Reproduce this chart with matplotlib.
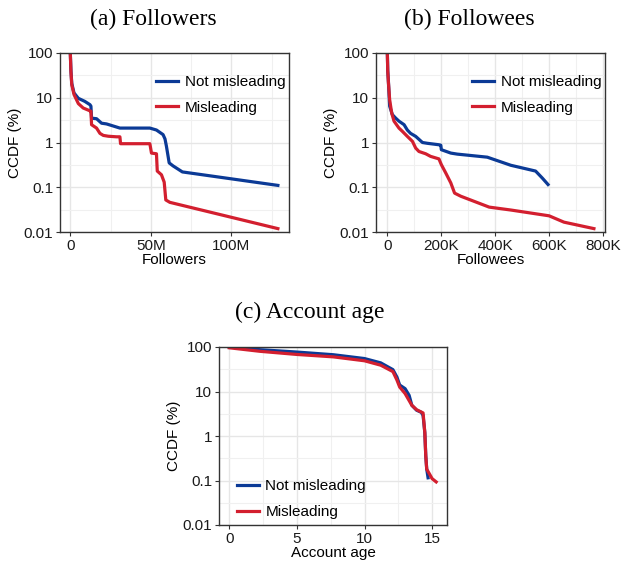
import matplotlib
matplotlib.use("Agg")
import matplotlib.pyplot as plt
from matplotlib.ticker import FixedLocator, FuncFormatter

# ---------------- data ----------------
# (a) Followers (in millions), CCDF (%)
fol_not_x = [0, 0.4, 0.9, 2.3, 5.0, 9.0, 12.2, 12.8, 13.2, 16.3, 19.4, 22.5, 30.8, 49.4, 53.5, 57.6, 58.8, 59.7, 61.4, 63.8, 69.6, 128.9]
fol_not_y = [100, 40, 21, 12.8, 9.7, 8.3, 7.0, 6.5, 3.5, 3.4, 2.7, 2.6, 2.1, 2.1, 1.9, 1.5, 1.2, 0.82, 0.35, 0.3, 0.22, 0.11]
fol_mis_x = [0, 0.4, 0.9, 2.3, 5.0, 8.0, 12.2, 12.8, 13.2, 16.3, 18.4, 20.5, 23.6, 28.7, 30.8, 31.2, 49.4, 50.4, 53.5, 54.0, 56.6, 58.3, 59.3, 61.8, 128.9]
fol_mis_y = [100, 38, 19.6, 11.8, 7.4, 5.9, 5.1, 5.0, 2.5, 2.1, 1.6, 1.44, 1.38, 1.34, 1.34, 0.94, 0.94, 0.58, 0.56, 0.23, 0.19, 0.13, 0.052, 0.046, 0.0119]

# (b) Followees (in thousands), CCDF (%)
fee_not_x = [0, 1.5, 3.7, 8.6, 18.5, 31, 43, 62, 74, 86, 105, 130, 148, 191, 198, 200, 235, 259, 370, 457, 549, 574, 595]
fee_not_y = [100, 40, 25, 6.5, 4.2, 3.5, 3.0, 2.5, 1.9, 1.6, 1.37, 1.0, 0.96, 0.89, 0.87, 0.69, 0.58, 0.55, 0.47, 0.31, 0.23, 0.16, 0.115]
fee_mis_x = [0, 1.5, 3.7, 8.6, 16, 24.7, 43, 55.5, 74, 93, 105, 117, 142, 160, 191, 200, 216, 235, 249, 272, 377, 457, 599, 654, 765]
fee_mis_y = [100, 40, 23, 9, 4.6, 3.0, 2.1, 1.78, 1.37, 1.06, 0.75, 0.63, 0.56, 0.49, 0.43, 0.32, 0.21, 0.125, 0.074, 0.063, 0.036, 0.031, 0.023, 0.0166, 0.0119]

# (c) Account age (years), CCDF (%)
age_not_x = [0, 2.27, 5.0, 7.7, 10.0, 11.2, 12.1, 12.4, 12.6, 13.0, 13.3, 13.5, 13.85, 14.2, 14.33, 14.46, 14.53, 14.6, 14.7]
age_not_y = [100, 87, 77, 67, 55, 44, 31, 21, 14, 11.6, 8.2, 4.9, 3.8, 3.4, 2.9, 1.19, 0.36, 0.18, 0.115]
age_mis_x = [0, 2.27, 5.0, 7.7, 10.0, 11.2, 12.1, 12.4, 12.6, 13.0, 13.5, 13.85, 14.33, 14.46, 14.53, 14.6, 15.0, 15.3]
age_mis_y = [96, 80, 68, 60, 49, 39, 28, 18, 12.6, 9, 4.9, 3.9, 3.3, 1.19, 0.36, 0.18, 0.11, 0.093]

series_labels = ["Not misleading", "Misleading"]
titles = ["(a) Followers", "(b) Followees", "(c) Account age"]
xlabels = ["Followers", "Followees", "Account age"]
ylabel = "CCDF (%)"
y_ticks = [0.01, 0.1, 1, 10, 100]
y_ticklabels = ["0.01", "0.1", "1", "10", "100"]

# ---------------- style ----------------
BLUE = "#0b3a96"
RED = "#d31f2f"
SANS = ["Liberation Sans", "DejaVu Sans"]
SERIF = ["Liberation Serif", "DejaVu Serif"]
plt.rcParams["font.family"] = SANS

fig = plt.figure(figsize=(6.22, 5.61), dpi=100)
W, H = 622, 561

def ax_at(l, r, t, b):
    return fig.add_axes([l / W, 1 - b / H, (r - l) / W, (b - t) / H])

ax_a = ax_at(60, 289, 53, 232)
ax_b = ax_at(376, 605, 53, 232)
ax_c = ax_at(219, 447, 347, 525)

def style(ax, xlim, xmaj, xmin, xfmt):
    ax.set_yscale("log")
    ax.set_ylim(0.01, 100)
    ax.set_xlim(*xlim)
    ax.yaxis.set_major_locator(FixedLocator(y_ticks))
    ax.yaxis.set_minor_locator(FixedLocator([0.0316, 0.316, 3.16, 31.6]))
    ax.set_yticks(y_ticks)
    ax.set_yticklabels(y_ticklabels)
    ax.xaxis.set_major_locator(FixedLocator(xmaj))
    ax.xaxis.set_minor_locator(FixedLocator(xmin))
    ax.xaxis.set_major_formatter(FuncFormatter(xfmt))
    ax.grid(True, which="major", color="#e6e6e6", lw=1.0)
    ax.grid(True, which="minor", color="#f0f0f0", lw=0.8)
    ax.set_axisbelow(True)
    ax.tick_params(which="major", length=3, width=0.8, color="#333333",
                   labelsize=11, labelcolor="#1a1a1a", pad=2)
    ax.tick_params(which="minor", length=0)
    for s in ax.spines.values():
        s.set_color("#333333")
        s.set_linewidth(1.0)
    ax.set_ylabel(ylabel, fontsize=11, labelpad=1)

style(ax_a, (-6.4, 135.8), [0, 50, 100], [25, 75, 125],
      lambda v, p: "0" if v == 0 else f"{int(v)}M")
style(ax_b, (-42, 806), [0, 200, 400, 600, 800], [100, 300, 500, 700],
      lambda v, p: "0" if v == 0 else f"{int(v)}K")
style(ax_c, (-0.76, 16.1), [0, 5, 10, 15], [2.5, 7.5, 12.5],
      lambda v, p: f"{int(v)}")

LW = 2.3
for ax, (nx, ny, mx, my), xl in [
    (ax_a, (fol_not_x, fol_not_y, fol_mis_x, fol_mis_y), xlabels[0]),
    (ax_b, (fee_not_x, fee_not_y, fee_mis_x, fee_mis_y), xlabels[1]),
    (ax_c, (age_not_x, age_not_y, age_mis_x, age_mis_y), xlabels[2]),
]:
    ax.plot(nx, ny, color=BLUE, lw=LW, label=series_labels[0], solid_joinstyle="round")
    ax.plot(mx, my, color=RED, lw=LW, label=series_labels[1], solid_joinstyle="round")
    ax.set_xlabel(xl, fontsize=11, labelpad=0)

for ax, loc, anchor in [(ax_a, "upper right", (1.01, 0.91)),
                        (ax_b, "upper right", (1.01, 0.91)),
                        (ax_c, "lower left", (0.053, 0.0))]:
    ax.legend(loc=loc, bbox_to_anchor=anchor, frameon=False, fontsize=11,
              borderaxespad=0, handlelength=1.4, handletextpad=0.45,
              labelspacing=0.75)

fig.text(153 / W, 1 - 19 / H, titles[0], family=SERIF, fontsize=17, ha="center", va="center")
fig.text(469 / W, 1 - 19 / H, titles[1], family=SERIF, fontsize=17, ha="center", va="center")
fig.text(310 / W, 1 - 312 / H, titles[2], family=SERIF, fontsize=17, ha="center", va="center")

fig.savefig("out.png", dpi=100)
